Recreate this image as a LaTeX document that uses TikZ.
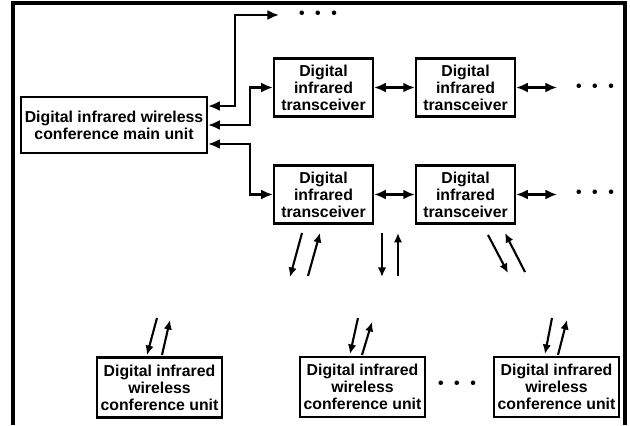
\documentclass[tikz,border=0pt]{standalone}
\usepackage{fontspec}
\setmainfont{Liberation Sans}
\usetikzlibrary{positioning}
\usetikzlibrary{calc}
\usetikzlibrary{arrows.meta}
\tikzset{
	semithick,
	every node/.style={align=center, inner sep=0.5pt, font=\bfseries\fontsize{15}{16.2}\selectfont},
	state/.style={rectangle, draw, line width=2.2pt, outer sep=1.1pt},
	mainunit/.style={state, minimum width=6.2cm, minimum height=1.87cm},
	trans/.style={state, minimum width=3.3cm, minimum height=1.93cm},
	unit/.style={state, minimum width=4.17cm, minimum height=2cm},
	bidirected/.style={{Latex[length=11pt,width=9.5pt]}-{Latex[length=11pt,width=9.5pt]}, line width=2.3pt},
	wl/.style={-{Latex[length=9pt,width=8pt]}, line width=2pt},
	dots/.style={inner sep=0pt},
	frame/.style={line width=3pt}
}

\begin{document}
\begin{tikzpicture}
	\useasboundingbox (0,0) rectangle (21,-14.167);
	% outer frame
	\draw[frame] (0.433,-14.167) |- (20.833,-0.1) -- (20.833,-14.167);
	
	\node[mainunit] (1) at (3.8,-4.167) {Digital infrared wireless\\conference main unit};
	\node[trans] (2) at (10.783,-2.917) {Digital\\infrared\\transceiver};
	\node[trans] (3) at (15.517,-2.917) {Digital\\infrared\\transceiver};
	\node[trans] (4) at (10.783,-6.483) {Digital\\infrared\\transceiver};
	\node[trans] (5) at (15.517,-6.483) {Digital\\infrared\\transceiver};
	\node[unit] (6) at (5.317,-12.917) {Digital infrared\\wireless\\conference unit};
	\node[unit] (7) at (12.083,-12.9) {Digital infrared\\wireless\\conference unit};
	\node[unit] (8) at (18.55,-12.9) {Digital infrared\\wireless\\conference unit};
	
	% dots
	\node[dots] (d1) at (10.6,-0.5) {\textbullet\hspace{10pt}\textbullet\hspace{10pt}\textbullet};
	\node[dots] (d2) at (19.833,-2.933) {\textbullet\hspace{10pt}\textbullet\hspace{10pt}\textbullet};
	\node[dots] (d3) at (19.833,-6.45) {\textbullet\hspace{10pt}\textbullet\hspace{10pt}\textbullet};
	\node[dots] (d4) at (15.233,-12.833) {\textbullet\hspace{10pt}\textbullet\hspace{10pt}\textbullet};
	\coordinate (e1) at (9.3,-0.5);
	\coordinate (e2) at (18.567,-2.917);
	\coordinate (e3) at (18.567,-6.483);
	
	% cables
	\draw[bidirected] ([yshift=0.633cm]1.east) -- ++(0.9,0) |- (e1);
	\draw[bidirected] (1.east) -- ++(1.4,0) |- (2);
	\draw[bidirected] ([yshift=-0.633cm]1.east) -- ++(1.4,0) |- (4);
	\draw[bidirected] (2) -- (3);
	\draw[bidirected] (3) -- (e2);
	\draw[bidirected] (4) -- (5);
	\draw[bidirected] (5) -- (e3);
	
	% infrared links
	\draw[wl] (10.067,-7.767) -- (9.667,-9.233);
	\draw[wl] (10.267,-9.2) -- (10.667,-7.767);
	\draw[wl] (12.733,-7.767) -- (12.733,-9.233);
	\draw[wl] (13.267,-9.2) -- (13.267,-7.767);
	\draw[wl] (16.267,-7.833) -- (16.933,-9.1);
	\draw[wl] (17.5,-9.067) -- (16.833,-7.767);
	
	\draw[wl] (5.233,-10.6) -- (4.9,-11.833);
	\draw[wl] (5.4,-11.833) -- (5.667,-10.667);
	\draw[wl] (11.933,-10.6) -- (11.667,-11.8);
	\draw[wl] (12.067,-11.833) -- (12.4,-10.733);
	\draw[wl] (18.4,-10.6) -- (18.167,-11.8);
	\draw[wl] (18.6,-11.833) -- (18.9,-10.667);
	
\end{tikzpicture}
\end{document}
